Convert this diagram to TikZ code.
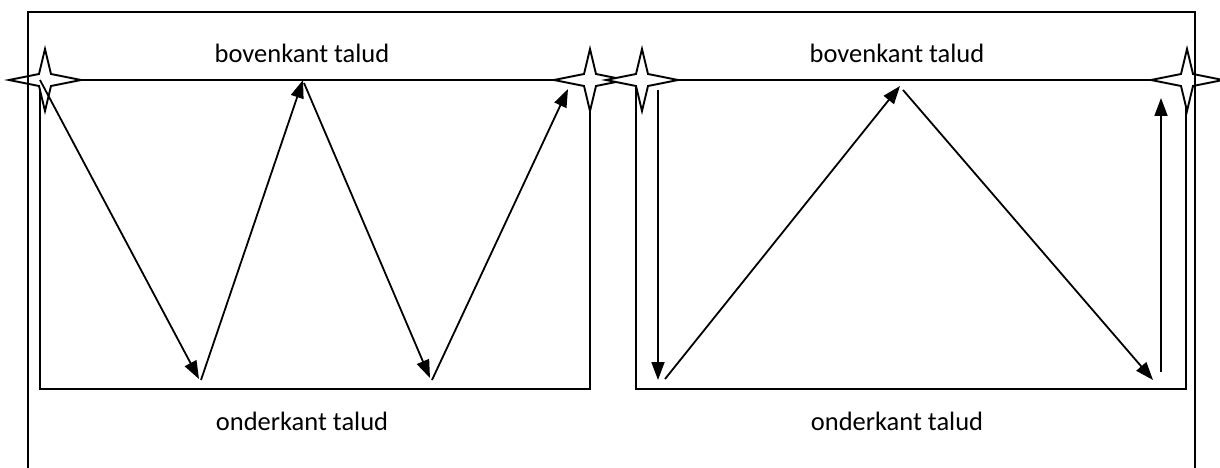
\documentclass[tikz,border=0pt]{standalone}
\usepackage{fontspec}
\setmainfont{Carlito}
\usetikzlibrary{arrows.meta}
\begin{document}
\begin{tikzpicture}[x=1pt,y=-1pt,
  ln/.style={line width=1.9pt},
  arr/.style={line width=1.8pt,-{Triangle[length=18pt,width=13pt]}},
  lbl/.style={font=\fontsize{26.5}{30}\selectfont,inner sep=0pt},
  fourstar/.pic={\draw[line width=1.9pt,fill=white,line join=miter] (-36,0)--(-6,-6)--(0,-31)--(6,-6)--(36,0)--(6,6)--(0,31)--(-6,6)--cycle;}]
\useasboundingbox (0,0) rectangle (1220,468);
% boxes
\draw[ln] (40,80) rectangle (590,389);
\draw[ln] (636,80) rectangle (1186,389);
% stars
\pic at (45,80) {fourstar};
\pic at (590,80) {fourstar};
\pic at (642,80) {fourstar};
\pic at (1187,80) {fourstar};
% outer frame
\draw[ln] (28,470) -- (28,12) -- (1195,12) -- (1195,470);
% labels
\node[lbl] (b1) at (302,53) {bovenkant talud};
\node[lbl] (b2) at (897,53) {bovenkant talud};
\node[lbl] (o1) at (302,421) {onderkant talud};
\node[lbl] (o2) at (897,421) {onderkant talud};
% left zigzag
\coordinate (L0) at (40,80);
\coordinate (L1) at (199,379);
\coordinate (L1s) at (201,380);
\coordinate (L2) at (303,80);
\coordinate (L2s) at (304,83);
\coordinate (L3) at (430,378);
\coordinate (L3s) at (432,380);
\coordinate (L4) at (568,89);
\draw[arr] (L0) -- (L1);
\draw[arr] (L1s) -- (L2);
\draw[arr] (L2s) -- (L3);
\draw[arr] (L3s) -- (L4);
% right path
\coordinate (R0) at (658,90);
\coordinate (R1) at (658,380);
\coordinate (R1s) at (665,379);
\coordinate (R2) at (900,86);
\coordinate (R2s) at (903,90);
\coordinate (R3) at (1153,380);
\coordinate (R4s) at (1161,372);
\coordinate (R4) at (1161,98);
\draw[arr] (R0) -- (R1);
\draw[arr] (R1s) -- (R2);
\draw[arr] (R2s) -- (R3);
\draw[arr] (R4s) -- (R4);
\end{tikzpicture}
\end{document}
